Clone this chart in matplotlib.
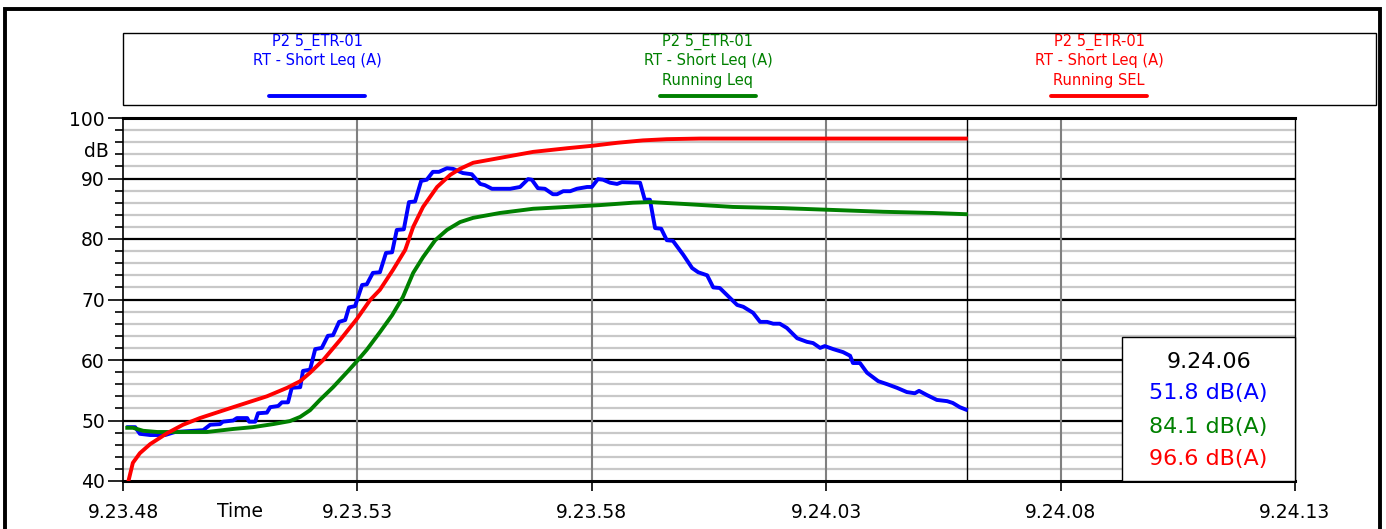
import matplotlib
matplotlib.use('Agg')
import matplotlib.pyplot as plt
from matplotlib.patches import Rectangle
from matplotlib.lines import Line2D
import matplotlib.transforms as mtransforms

# seconds after 9.23.48
t_short = [0.11, 0.26, 0.36, 0.58, 0.90, 1.11, 1.71, 1.86, 2.07, 2.13, 2.35, 2.43, 2.65, 2.69,
           2.82, 2.88, 3.07, 3.14, 3.31, 3.39, 3.52, 3.60, 3.78, 3.84, 3.99, 4.10, 4.24, 4.37,
           4.48, 4.61, 4.74, 4.82, 4.95, 5.10, 5.20, 5.33, 5.48, 5.61, 5.74, 5.84, 5.99, 6.10,
           6.23, 6.36, 6.48, 6.61, 6.74, 6.91, 7.04, 7.25, 7.44, 7.62, 7.72, 7.87, 8.26, 8.47,
           8.64, 8.72, 8.85, 9.00, 9.17, 9.26, 9.39, 9.54, 9.68, 9.90, 10.00, 10.13, 10.24, 10.39,
           10.54, 10.64, 11.03, 11.13, 11.24, 11.35, 11.48, 11.60, 11.73, 11.95, 12.14, 12.27,
           12.46, 12.59, 12.73, 13.10, 13.23, 13.44, 13.59, 13.74, 13.87, 14.01, 14.16, 14.38,
           14.59, 14.72, 14.87, 14.97, 15.15, 15.36, 15.51, 15.57, 15.72, 15.87, 16.11, 16.30,
           16.51, 16.72, 16.89, 16.98, 17.15, 17.36, 17.58, 17.70, 17.85, 17.98]
short_leq = [48.9, 48.9, 47.8, 47.6, 47.6, 48.1, 48.4, 49.3, 49.4, 49.8, 50.0, 50.4, 50.4, 49.8,
             49.8, 51.2, 51.3, 52.2, 52.4, 53.0, 53.0, 55.4, 55.5, 58.2, 58.4, 61.8, 62.0, 64.0,
             64.1, 66.3, 66.6, 68.7, 68.9, 72.4, 72.5, 74.4, 74.5, 77.7, 77.8, 81.5, 81.6, 86.1,
             86.2, 89.6, 89.8, 91.1, 91.1, 91.7, 91.6, 90.9, 90.7, 89.1, 88.9, 88.3, 88.3, 88.6,
             89.9, 89.8, 88.4, 88.3, 87.4, 87.4, 87.9, 87.9, 88.3, 88.6, 88.6, 89.9, 89.8, 89.3,
             89.1, 89.4, 89.3, 86.5, 86.5, 81.8, 81.7, 79.8, 79.7, 77.4, 75.2, 74.5,
             74.0, 72.0, 71.9, 69.1, 68.8, 67.8, 66.3, 66.3, 66.0, 66.0, 65.3, 63.6,
             63.0, 62.8, 62.0, 62.3, 61.8, 61.3, 60.7, 59.5, 59.5, 57.9, 56.5, 56.0,
             55.4, 54.7, 54.5, 54.9, 54.2, 53.4, 53.2, 52.9, 52.2, 51.8]

t_run = [0.09, 0.21, 0.43, 0.73, 1.28, 1.79, 2.35, 2.77, 3.20, 3.56, 3.78, 3.99, 4.20, 4.48,
         4.78, 4.99, 5.20, 5.48, 5.74, 5.97, 6.19, 6.40, 6.66, 6.91, 7.19, 7.47, 8.04, 8.75,
         9.47, 10.17, 10.88, 11.24, 11.95, 13.01, 14.08, 15.15, 16.21, 17.28, 17.98]
running_leq = [48.8, 48.8, 48.3, 48.1, 48.1, 48.1, 48.6, 48.9, 49.4, 49.9, 50.6, 51.7, 53.4, 55.5,
               58.0, 59.8, 61.7, 64.6, 67.4, 70.4, 74.4, 77.0, 79.8, 81.5, 82.8, 83.5, 84.3, 85.0,
               85.3, 85.6, 86.0, 86.1, 85.8, 85.3, 85.1, 84.8, 84.5, 84.3, 84.1]

t_sel = [0.11, 0.21, 0.36, 0.58, 0.94, 1.28, 1.64, 2.35, 3.07, 3.50, 3.78, 3.99, 4.27, 4.63,
         4.99, 5.27, 5.48, 5.76, 6.02, 6.19, 6.40, 6.70, 6.98, 7.19, 7.47, 8.04, 8.75, 9.47,
         10.00, 10.54, 11.09, 11.60, 12.31, 17.98]
running_sel = [39.8, 43.0, 44.6, 46.1, 47.9, 49.3, 50.4, 52.2, 54.0, 55.4, 56.5, 57.9, 60.0, 63.3,
               66.8, 69.9, 71.6, 74.9, 78.2, 82.0, 85.3, 88.6, 90.6, 91.6, 92.6, 93.4, 94.4, 95.0,
               95.4, 95.9, 96.3, 96.5, 96.6, 96.6]

x_ticks = [0, 5, 10, 15, 20, 25]
x_labels = ['9.23.48', '9.23.53', '9.23.58', '9.24.03', '9.24.08', '9.24.13']
cursor_t = 18
cursor_label = '9.24.06'
cursor_values = ['51.8 dB(A)', '84.1 dB(A)', '96.6 dB(A)']

BLUE = '#0000ff'
GREEN = '#008000'
RED = '#ff0000'
W, H = 1386, 529

fig = plt.figure(figsize=(W / 100, H / 100), dpi=100)
ax = fig.add_axes([123 / W, 1 - 481 / H, (1295 - 123) / W, (481 - 118) / H])

# grid
for v in range(42, 100, 2):
    if v % 10:
        ax.axhline(v, color='#c8c8c8', lw=1.6, zorder=1)
for v in range(50, 100, 10):
    ax.axhline(v, color='black', lw=1.6, zorder=2)
for tx in x_ticks[1:-1]:
    ax.axvline(tx, color='#808080', lw=1.5, zorder=2)
ax.axvline(cursor_t, color='black', lw=1.0, zorder=2)

ax.plot(t_short, short_leq, color=BLUE, lw=2.8, zorder=4)
ax.plot(t_run, running_leq, color=GREEN, lw=2.8, zorder=4)
ax.plot(t_sel, running_sel, color=RED, lw=2.8, zorder=5)

ax.set_xlim(0, 25)
ax.set_ylim(40, 100)
ax.set_xticks(x_ticks)
ax.set_xticklabels(x_labels)
ax.set_yticks([40, 50, 60, 70, 80, 90, 100])
ax.set_yticks([v for v in range(42, 100, 2) if v % 10], minor=True)
ax.tick_params(axis='x', length=7, width=1.2, pad=9, labelsize=13.5, colors='black')
ax.tick_params(axis='y', which='major', length=11, width=1.2, pad=2, labelsize=13.5)
ax.tick_params(axis='y', which='minor', length=6, width=1.2)
for s in ['top', 'bottom']:
    ax.spines[s].set_linewidth(2.2)
ax.spines['left'].set_linewidth(1.2)
ax.spines['right'].set_linewidth(1.0)

ax.text(-0.012, 94.4, 'dB', transform=mtransforms.blended_transform_factory(ax.transAxes, ax.transData),
        ha='right', va='center', fontsize=13.5)
ax.text(2.5, -0.085, 'Time', transform=mtransforms.blended_transform_factory(ax.transData, ax.transAxes),
        ha='center', va='center', fontsize=13.5)

# cursor readout
box = Rectangle((1122 / W, 1 - 481 / H), (1295 - 1122) / W, (481 - 337) / H, transform=fig.transFigure,
                facecolor='white', edgecolor='black', lw=1.0, zorder=6)
fig.patches.append(box)
cx = (1122 + 1295) / 2 / W
fig.text(cx, 1 - 362 / H, cursor_label, ha='center', va='center', fontsize=16, color='black', zorder=7)
for yy, txt, col in zip([393, 427, 459], cursor_values, [BLUE, GREEN, RED]):
    fig.text(cx, 1 - yy / H, txt, ha='center', va='center', fontsize=16, color=col, zorder=7)

# legend box
fig.patches.append(Rectangle((123 / W, 1 - 105 / H), (1376 - 123) / W, (105 - 33) / H,
                             transform=fig.transFigure, facecolor='none', edgecolor='black', lw=1.0))
legend_items = [
    (317, ['P2 5_ETR-01', 'RT - Short Leq (A)'], BLUE),
    (708, ['P2 5_ETR-01', 'RT - Short Leq (A)', 'Running Leq'], GREEN),
    (1099, ['P2 5_ETR-01', 'RT - Short Leq (A)', 'Running SEL'], RED),
]
for xc, lines, col in legend_items:
    for yy, txt in zip([42, 61, 81], lines):
        fig.text(xc / W, 1 - yy / H, txt, ha='center', va='center', fontsize=10.5, color=col)
    fig.lines.append(Line2D([(xc - 48) / W, (xc + 48) / W], [1 - 96 / H, 1 - 96 / H],
                            transform=fig.transFigure, color=col, lw=2.8, solid_capstyle='round'))

# outer frame
fig.patches.append(Rectangle((5 / W, -0.1), (1380 - 5) / W, 1.1 - 9 / H, transform=fig.transFigure,
                             facecolor='none', edgecolor='black', lw=2.8))

fig.savefig('out.png', dpi=100)
